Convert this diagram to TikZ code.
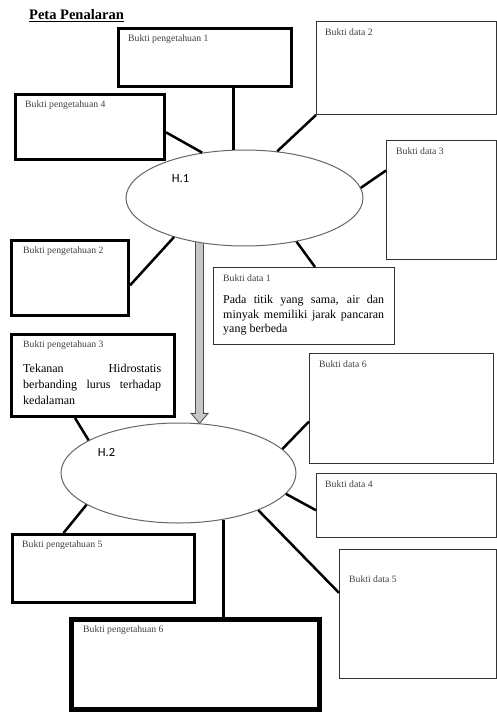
\documentclass[tikz,border=0pt]{standalone}
\usepackage{fontspec}
\setmainfont{Liberation Serif}
\newfontfamily\hypfont{Carlito}
\usetikzlibrary{calc,shapes.geometric,backgrounds}

\begin{document}
\begin{tikzpicture}[x=1pt,y=-1pt,
    every node/.style={inner sep=0pt},
    lbl/.style={anchor=north west,xshift=11pt,yshift=-8pt,text=black!75,
      font=\fontsize{9.7}{11}\selectfont},
    pbox/.style={draw,line width=3pt,anchor=north west},
    dbox/.style={draw=black!80,line width=1pt,anchor=north west},
    hyp/.style={ellipse,draw=black!60,fill=white,line width=1pt},
    hlbl/.style={font=\hypfont\fontsize{12.5}{14}\selectfont},
    body/.style={anchor=north west,align=justify,
      execute at begin node={\hyphenpenalty=10000\tolerance=9999}},
    link/.style={line width=2.5pt}]
  \useasboundingbox (0,0) rectangle (497,722);
  \node[anchor=base west,font=\fontsize{14.5}{16}\selectfont\bfseries] (title) at (29,20) {\underline{Peta Penalaran}};

  % hipotesis
  \node[hyp,minimum width=237pt,minimum height=96pt,
    label={[hlbl,xshift=-64pt,yshift=19pt]center:H.1}] (h1) at (244.5,198) {};
  \node[hyp,minimum width=235pt,minimum height=100pt,
    label={[hlbl,xshift=-72pt,yshift=21pt]center:H.2}] (h2) at (178.5,473) {};

  % bukti pengetahuan
  \node[pbox,minimum width=173pt,minimum height=58pt,label={[lbl]north west:Bukti pengetahuan 1}] (bp1) at (117,27) {};
  \node[pbox,minimum width=149pt,minimum height=65pt,label={[lbl]north west:Bukti pengetahuan 4}] (bp4) at (14,93) {};
  \node[pbox,minimum width=117pt,minimum height=75pt,label={[lbl,xshift=2pt]north west:Bukti pengetahuan 2}] (bp2) at (10,239) {};
  \node[pbox,minimum width=163pt,minimum height=82pt,label={[lbl,xshift=2pt]north west:Bukti pengetahuan 3}] (bp3) at (10,333) {};
  \node[pbox,minimum width=182pt,minimum height=68pt,label={[lbl]north west:Bukti pengetahuan 5}] (bp5) at (11,533) {};
  \node[pbox,line width=4.5pt,minimum width=248pt,minimum height=90pt,label={[lbl,xshift=3pt,yshift=-1pt]north west:Bukti pengetahuan 6}] (bp6) at (69,617) {};

  % bukti data
  \node[dbox,minimum width=180pt,minimum height=93pt,label={[lbl,xshift=-2pt]north west:Bukti data 2}] (bd2) at (316,21) {};
  \node[dbox,minimum width=110pt,minimum height=119pt,label={[lbl,xshift=-1pt]north west:Bukti data 3}] (bd3) at (386,140) {};
  \node[dbox,minimum width=181pt,minimum height=77pt,label={[lbl,xshift=-1pt]north west:Bukti data 1}] (bd1) at (213,267) {};
  \node[dbox,minimum width=184pt,minimum height=110pt,label={[lbl,xshift=-1pt]north west:Bukti data 6}] (bd6) at (309,353) {};
  \node[dbox,minimum width=180pt,minimum height=64pt,label={[lbl,xshift=-2pt]north west:Bukti data 4}] (bd4) at (316,473) {};
  \node[dbox,minimum width=157pt,minimum height=129pt,label={[lbl,xshift=-1pt,yshift=-19pt]north west:Bukti data 5}] (bd5) at (339,549) {};

  \node[body,text width=161pt,font=\fontsize{12}{14.5}\selectfont] (t1) at ($(bd1.north west)+(10,28)$)
    {Pada titik yang sama, air dan minyak memiliki jarak pancaran yang berbeda};
  \node[body,text width=138pt,font=\fontsize{12}{16}\selectfont] (t3) at ($(bp3.north west)+(13,31)$)
    {Tekanan Hidrostatis berbanding lurus terhadap kedalaman};

  % penghubung
  \draw[link] (h1.103) -- (h1.103 |- bp1.south);
  \draw[link] (h1.133) -- (bp4.-4);
  \draw[link] (h1.55) -- (bd2.south west);
  \draw[link] (h1.5) -- (bd3.152);
  \draw[link] (h1.209) -- (bp2.-7);
  \draw[link] (h1.-40) -- ([xshift=11pt]bd1.north);
  \draw[link] (h2.160) -- ([xshift=-18pt]bp3.south);
  \draw[link] (h2.13) -- (bd6.188);
  \draw[link] (h2.-11) -- (bd4.183);
  \draw[link] (h2.-25) -- (bd5.165);
  \draw[link] (h2.199) -- ([xshift=-40pt]bp5.north);
  \draw[link] (h2.-46) -- (h2.-46 |- bp6.north);

  % panah H.1 ke H.2
  \coordinate (a1) at (h1.-135);
  \coordinate (a2) at (a1 |- h2.66);
  \begin{scope}[on background layer]
    \filldraw[fill=gray!45,draw=black!70,line width=0.8pt]
      ($(a1)+(-4,-4)$) -- ($(a2)+(-4,-10)$) -- ($(a2)+(-8.5,-10)$) -- (a2)
      -- ($(a2)+(8.5,-10)$) -- ($(a2)+(4,-10)$) -- ($(a1)+(4,-4)$) -- cycle;
  \end{scope}
\end{tikzpicture}
\end{document}
